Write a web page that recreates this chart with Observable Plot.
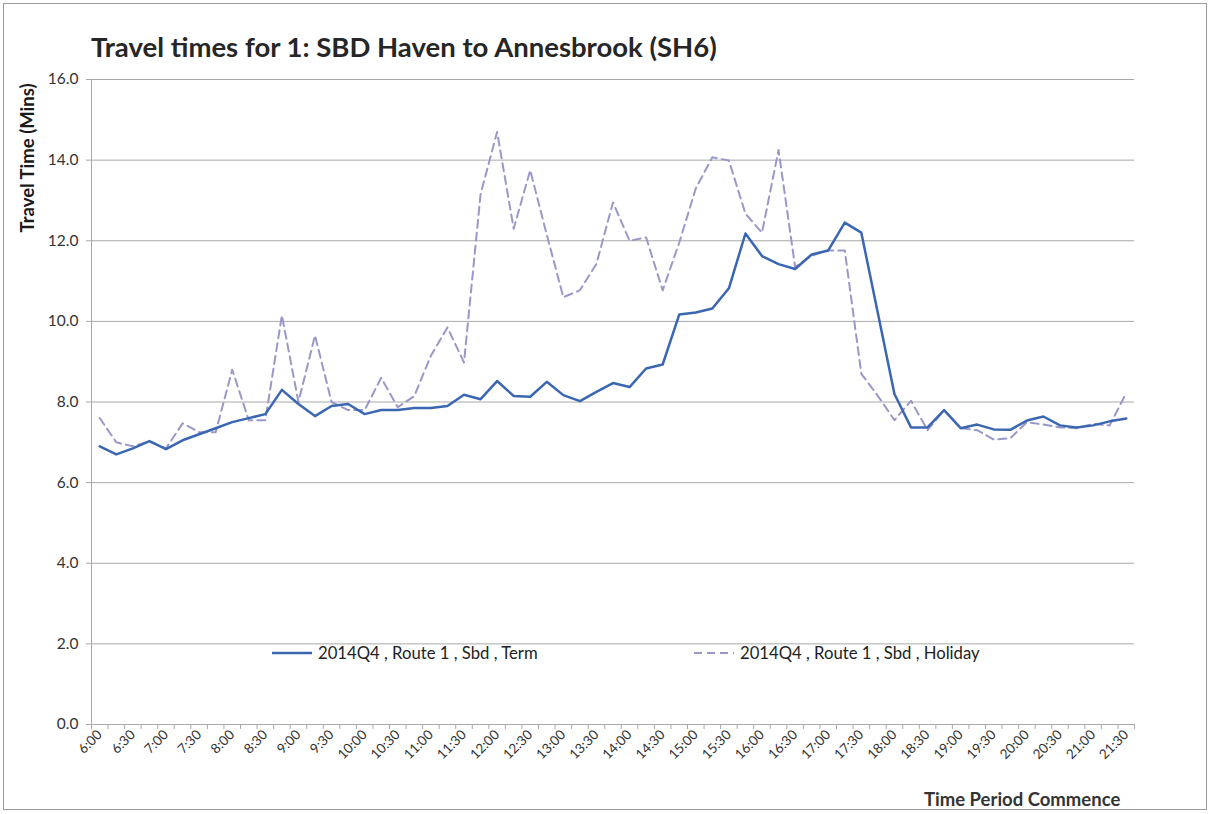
<!DOCTYPE html>
<html><head><meta charset="utf-8">
<script src="https://cdn.jsdelivr.net/npm/d3@7"></script>
<script src="https://cdn.jsdelivr.net/npm/@observablehq/plot@0.6"></script>
<style>
body{margin:0;background:#fff;font-family:Lato,"Open Sans",sans-serif;}
#wrap{position:relative;width:1211px;height:814px;overflow:hidden;background:#fff;}
#wrap svg{position:absolute;left:0;top:0;}
#frame{position:absolute;left:3px;top:3px;width:1204px;height:807px;border:1px solid #9a9a9a;box-sizing:border-box;pointer-events:none}
#title{position:absolute;left:91px;top:33px;font-size:27.5px;font-weight:bold;color:#262626;white-space:nowrap;line-height:1}
#ylab{position:absolute;left:27px;top:158px;transform:translate(-50%,-50%) rotate(-90deg);font-size:18.5px;font-weight:bold;color:#1a1a1a;white-space:nowrap;line-height:1}
#xlab{position:absolute;left:924px;top:790px;font-size:18.5px;font-weight:bold;color:#333;white-space:nowrap;line-height:1}
.leg{position:absolute;top:643px;font-size:16.7px;color:#222;white-space:nowrap;line-height:20px;display:flex;align-items:center}
.leg svg{position:static !important;margin-right:6px}
</style>
</head><body>
<div id="wrap">
  <div id="chart"></div>
  <div id="title"></div>
  <div id="ylab"></div>
  <div id="xlab"></div>
  <div id="leg0" class="leg" style="left:272px"></div>
  <div id="leg1" class="leg" style="left:694px"></div>
  <div id="frame"></div>
</div>
<script>
const titleText = "Travel times for 1: SBD Haven to Annesbrook (SH6)";
const yLabel = "Travel Time (Mins)";
const xLabel = "Time Period Commence";
const seriesNames = ["2014Q4 , Route 1 , Sbd , Term", "2014Q4 , Route 1 , Sbd , Holiday"];
const seriesColors = ["#3b67b2", "#9898c9"];

const times = ["6:00","6:15","6:30","6:45","7:00","7:15","7:30","7:45","8:00","8:15","8:30","8:45",
"9:00","9:15","9:30","9:45","10:00","10:15","10:30","10:45","11:00","11:15","11:30","11:45",
"12:00","12:15","12:30","12:45","13:00","13:15","13:30","13:45","14:00","14:15","14:30","14:45",
"15:00","15:15","15:30","15:45","16:00","16:15","16:30","16:45","17:00","17:15","17:30","17:45",
"18:00","18:15","18:30","18:45","19:00","19:15","19:30","19:45","20:00","20:15","20:30","20:45",
"21:00","21:15","21:30"];

const term = [6.9,6.7,6.85,7.03,6.83,7.05,7.2,7.35,7.5,7.6,
7.7,8.3,7.95,7.65,7.9,7.95,7.7,7.8,7.8,7.85,
7.85,7.9,8.18,8.07,8.52,8.15,8.13,8.5,8.17,8.02,
8.25,8.47,8.37,8.83,8.93,10.17,10.22,10.32,10.82,12.18,
11.62,11.42,11.3,11.66,11.76,12.45,12.2,10.2,8.2,7.37,
7.37,7.8,7.35,7.44,7.32,7.31,7.54,7.64,7.42,7.37,
7.42,7.52,7.59];

const holiday = [7.6,7.0,6.9,7.02,6.85,7.47,7.25,7.25,8.8,7.55,
7.55,10.15,8.0,9.65,8.0,7.8,7.8,8.6,7.87,8.15,
9.15,9.85,8.98,13.15,14.7,12.3,13.75,12.15,10.6,10.77,
11.43,12.95,12.0,12.08,10.77,11.95,13.3,14.07,13.99,12.67,
12.2,14.25,11.35,11.63,11.76,11.76,8.7,8.15,7.55,8.03,
7.3,7.8,7.35,7.3,7.07,7.1,7.5,7.44,7.37,7.35,
7.46,7.42,8.22];

const yTicks = [0,2,4,6,8,10,12,14,16];

const termRows = times.map((t,i)=>({i, t, v: term[i]}));
const holRows = times.map((t,i)=>({i, t, v: holiday[i]}));
const boundaries = d3.range(times.length + 1).map(k => k - 0.5);
const labelIdx = d3.range(0, times.length, 2);

const chart = Plot.plot({
  width: 1211, height: 814,
  marginLeft: 91, marginRight: 77, marginTop: 79, marginBottom: 90,
  style: {fontFamily: "Lato, 'Open Sans', sans-serif", fontSize: "12px", color: "#333", background: "transparent"},
  x: {type: "linear", domain: [-0.5, times.length - 0.5]},
  y: {domain: [0, 16]},
  marks: [
    Plot.gridY(yTicks, {stroke: "#a9a9a9", strokeOpacity: 1, strokeWidth: 1}),
    Plot.ruleX([-0.5], {stroke: "#a9a9a9", strokeWidth: 1}),
    Plot.axisY(yTicks, {tickSize: 5, tickPadding: 8, tickFormat: d => d.toFixed(1), fontSize: 15.5, label: null, stroke: "#a9a9a9", color: "#333"}),
    Plot.axisX(boundaries, {tickSize: 5, tickFormat: () => "", label: null, stroke: "#a9a9a9"}),
    Plot.axisX(labelIdx, {tickSize: 0, tickRotate: -45, tickPadding: 8, tickFormat: i => times[i], label: null, fontSize: 13.5, color: "#333"}),
    Plot.line(holRows, {x: "i", y: "v", stroke: seriesColors[1], strokeWidth: 2, strokeDasharray: "8,5"}),
    Plot.line(termRows, {x: "i", y: "v", stroke: seriesColors[0], strokeWidth: 2.5})
  ]
});
document.getElementById("chart").appendChild(chart);
document.getElementById("title").textContent = titleText;
document.getElementById("ylab").textContent = yLabel;
document.getElementById("xlab").textContent = xLabel;

function legendItem(id, k, dash) {
  const el = document.getElementById(id);
  const ns = "http://www.w3.org/2000/svg";
  const s = document.createElementNS(ns, "svg");
  s.setAttribute("width", 40); s.setAttribute("height", 6);
  const l = document.createElementNS(ns, "line");
  l.setAttribute("x1", 0); l.setAttribute("x2", 40); l.setAttribute("y1", 3); l.setAttribute("y2", 3);
  l.setAttribute("stroke", seriesColors[k]); l.setAttribute("stroke-width", k === 0 ? 2.5 : 2);
  if (dash) l.setAttribute("stroke-dasharray", "8,5");
  s.appendChild(l);
  el.appendChild(s);
  const sp = document.createElement("span");
  sp.textContent = seriesNames[k];
  el.appendChild(sp);
}
legendItem("leg0", 0, false);
legendItem("leg1", 1, true);
</script>
</body></html>
